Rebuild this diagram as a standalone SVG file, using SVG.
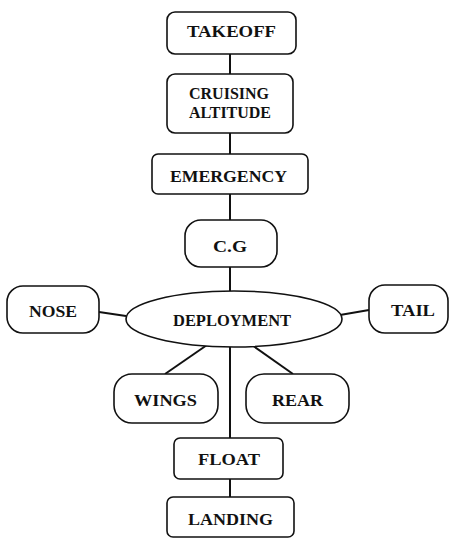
<svg xmlns="http://www.w3.org/2000/svg" width="455" height="539" viewBox="0 0 455 539">
<style>
.n{fill:#fff;stroke:#111;stroke-width:1.6}
.c line{stroke:#111;stroke-width:2}
text{font-family:"Liberation Serif","Times New Roman",serif;font-weight:bold;font-size:16px;fill:#111;lengthAdjust:spacingAndGlyphs}
</style>
<rect width="455" height="539" fill="#fff"/>
<g id="connectors" class="c">
<line x1="230" y1="54" x2="230" y2="74"/>
<line x1="230" y1="133" x2="230" y2="154"/>
<line x1="230" y1="194" x2="230" y2="220"/>
<line x1="230" y1="267" x2="230" y2="291"/>
<line x1="99" y1="312" x2="126" y2="316"/>
<line x1="340" y1="315" x2="369" y2="310"/>
<line x1="207" y1="345" x2="165" y2="374"/>
<line x1="252" y1="345" x2="293" y2="374"/>
<line x1="230" y1="347" x2="230" y2="438"/>
<line x1="230" y1="479" x2="230" y2="497"/>
</g>
<g id="takeoff"><rect class="n" x="167" y="12" width="129" height="42" rx="8"/><text x="187" y="37" textLength="89" lengthAdjust="spacingAndGlyphs">TAKEOFF</text></g>
<g id="cruising"><rect class="n" x="167" y="74" width="126" height="59" rx="8"/><text x="189" y="99" textLength="80" lengthAdjust="spacingAndGlyphs">CRUISING</text><text x="189" y="118" textLength="82" lengthAdjust="spacingAndGlyphs">ALTITUDE</text></g>
<g id="emergency"><rect class="n" x="152" y="154" width="156" height="40" rx="6"/><text x="170" y="182" textLength="117" lengthAdjust="spacingAndGlyphs">EMERGENCY</text></g>
<g id="cg"><rect class="n" x="185" y="220" width="92" height="47" rx="16"/><text x="213" y="252" textLength="34" lengthAdjust="spacingAndGlyphs">C.G</text></g>
<g id="deployment"><ellipse class="n" cx="234" cy="319" rx="108" ry="28"/><text x="173" y="326" textLength="118" lengthAdjust="spacingAndGlyphs">DEPLOYMENT</text></g>
<g id="nose"><rect class="n" x="7" y="286" width="92" height="47" rx="16"/><text x="29" y="317" textLength="48" lengthAdjust="spacingAndGlyphs">NOSE</text></g>
<g id="tail"><rect class="n" x="369" y="285" width="79" height="48" rx="16"/><text x="391" y="316" textLength="44" lengthAdjust="spacingAndGlyphs">TAIL</text></g>
<g id="wings"><rect class="n" x="114" y="374" width="104" height="49" rx="18"/><text x="134" y="406" textLength="63" lengthAdjust="spacingAndGlyphs">WINGS</text></g>
<g id="rear"><rect class="n" x="246" y="374" width="103" height="49" rx="18"/><text x="272" y="406" textLength="51" lengthAdjust="spacingAndGlyphs">REAR</text></g>
<g id="float"><rect class="n" x="174" y="438" width="109" height="41" rx="6"/><text x="198" y="465" textLength="62" lengthAdjust="spacingAndGlyphs">FLOAT</text></g>
<g id="landing"><rect class="n" x="167" y="497" width="127" height="40" rx="6"/><text x="188" y="525" textLength="85" lengthAdjust="spacingAndGlyphs">LANDING</text></g>
</svg>
